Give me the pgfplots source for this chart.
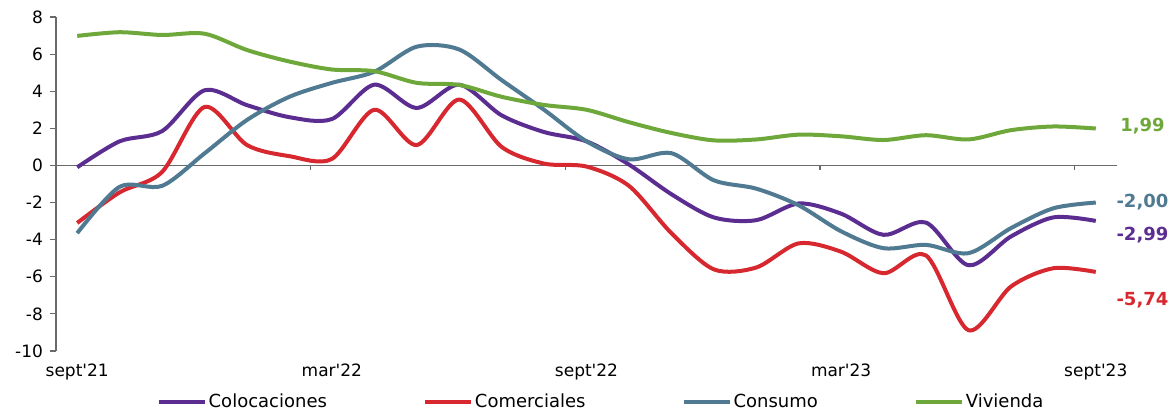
\documentclass[border=0pt]{standalone}
\usepackage{fontspec}
\setmainfont{DejaVu Sans}
\usepackage{pgfplots}
\pgfplotsset{compat=1.18}
\usepackage{pgfplotstable}

\definecolor{colcol}{HTML}{5C2D91}
\definecolor{comcol}{HTML}{D7282F}
\definecolor{concol}{HTML}{4F7A92}
\definecolor{vivcol}{HTML}{6EA83B}
\definecolor{axisgray}{HTML}{6A6A6A}

% variacion anual, sept'21 .. sept'23
\pgfplotstableread{
i  col    com    cons   viv
0  -0.10  -3.10  -3.65  6.98
1   1.30  -1.45  -1.15  7.18
2   1.85  -0.35  -1.10  7.03
3   4.05   3.15   0.65  7.10
4   3.25   1.10   2.45  6.22
5   2.60   0.50   3.70  5.60
6   2.50   0.35   4.45  5.17
7   4.35   3.00   5.05  5.08
8   3.10   1.10   6.40  4.45
9   4.35   3.55   6.25  4.34
10  2.70   1.00   4.60  3.70
11  1.80   0.10   3.00  3.26
12  1.30  -0.06   1.30  3.00
13  0.05  -1.10   0.33  2.33
14 -1.55  -3.65   0.66  1.75
15 -2.80  -5.60  -0.80  1.35
16 -2.95  -5.50  -1.25  1.40
17 -2.05  -4.20  -2.15  1.66
18 -2.60  -4.65  -3.55  1.57
19 -3.74  -5.81  -4.46  1.37
20 -3.08  -4.85  -4.28  1.63
21 -5.38  -8.88  -4.73  1.40
22 -3.83  -6.53  -3.38  1.90
23 -2.80  -5.54  -2.31  2.10
24 -2.99  -5.74  -2.00  1.99
}\datos

\begin{document}
\begin{tikzpicture}
\path[use as bounding box] (0,0) rectangle (587.5pt,205.5pt);
\begin{axis}[
    at={(28pt,30pt)}, anchor=south west,
    scale only axis, width=530.5pt, height=167pt,
    xmin=-0.5, xmax=24.5, ymin=-10, ymax=8,
    ytick={-10,-8,...,8},
    xtick={0,6,12,18,24},
    xticklabels={sept\textquotesingle21,mar\textquotesingle22,sept\textquotesingle22,mar\textquotesingle23,sept\textquotesingle23},
    axis y line*=left, axis x line*=bottom,
    x axis line style={draw=none},
    y axis line style={draw=axisgray, line width=0.6pt},
    ytick style={draw=axisgray, line width=0.6pt},
    xtick style={draw=none},
    tick align=outside, major tick length=3pt,
    tick label style={font=\fontsize{8.5}{10}\selectfont},
    /pgf/number format/assume math mode=true,
    clip=false,
    legend style={at={(0.5137,-0.1527)}, anchor=center, draw=none, fill=none,
        legend columns=-1, font=\fontsize{9}{10}\selectfont,
        /tikz/every even column/.append style={column sep=47pt},
        nodes={inner xsep=1pt, inner ysep=1pt}},
    legend image code/.code={\draw[#1, line width=2pt] (0pt,0pt) -- (23pt,0pt);},
    every axis plot/.append style={line width=2pt, smooth, no markers, line join=round},
]
\draw[axisgray, line width=0.6pt] (axis cs:-0.5,0) -- (axis cs:24.5,0);
\pgfplotsinvokeforeach{5.5,11.5,17.5,23.5}{
  \draw[axisgray, line width=0.6pt] (axis cs:#1,0) -- ++(0pt,-2.5pt);
}
\addplot[colcol] table[x=i, y=col] {\datos};
\addlegendentry{Colocaciones}
\addplot[comcol] table[x=i, y=com] {\datos};
\addlegendentry{Comerciales}
\addplot[concol] table[x=i, y=cons] {\datos};
\addlegendentry{Consumo}
\addplot[vivcol] table[x=i, y=viv] {\datos};
\addlegendentry{Vivienda}

\node[font=\bfseries\fontsize{9}{10}\selectfont, text=vivcol] at (axis cs:25.1,2.13) {1,99};
\node[font=\bfseries\fontsize{9}{10}\selectfont, text=concol] at (axis cs:25.1,-2.00) {-2,00};
\node[font=\bfseries\fontsize{9}{10}\selectfont, text=colcol] at (axis cs:25.1,-3.74) {-2,99};
\node[font=\bfseries\fontsize{9}{10}\selectfont, text=comcol] at (axis cs:25.1,-7.25) {-5,74};
\end{axis}
\end{tikzpicture}
\end{document}
